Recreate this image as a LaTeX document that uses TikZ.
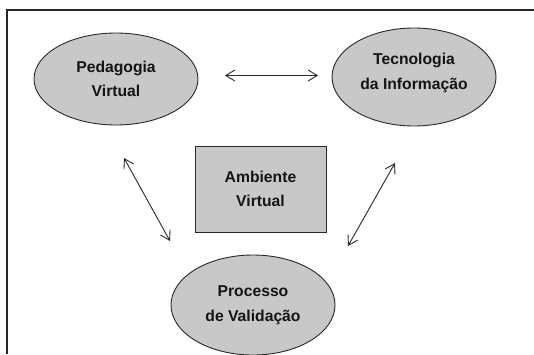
\documentclass[tikz,border=0pt]{standalone}
\usepackage{fontspec}
\setmainfont{Liberation Sans}
\usetikzlibrary{arrows.meta,shapes.geometric}
\definecolor{fillgray}{RGB}{200,200,200}
\definecolor{linegray}{RGB}{40,40,40}
\tikzset{
  bubble/.style={ellipse, draw=linegray, line width=0.9pt, fill=fillgray, inner sep=0pt},
  boxnode/.style={rectangle, draw=linegray, line width=0.9pt, fill=fillgray, inner sep=0pt},
  lbl/.style={font=\fontsize{15.7}{24.5}\selectfont\bfseries, align=center, text=black!92},
  link/.style={draw=linegray, line width=0.9pt, {Straight Barb[length=9pt,width=11pt]}-{Straight Barb[length=9pt,width=11pt]}},
  frameline/.style={draw=black!85, line width=1.3pt}
}
\begin{document}
\begin{tikzpicture}[x=1pt,y=-1pt]
\useasboundingbox (0,0) rectangle (534,354);
\fill[white] (0,0) rectangle (534,354);
\coordinate (fa) at (7,354);
\coordinate (fb) at (7,10);
\coordinate (fc) at (536,10);
\draw[frameline] (fa) -- (fb) -- (fc);
\node[bubble, minimum width=164pt, minimum height=92pt] (ped) at (116,79) {};
\node[lbl] at (ped.center) {Pedagogia\\Virtual};
\node[bubble, minimum width=164pt, minimum height=98pt] (tec) at (414,77) {};
\node[lbl] at (414,73) {Tecnologia\\da Informação};
\node[bubble, minimum width=164pt, minimum height=100pt] (pro) at (253,305) {};
\node[lbl] at (pro.center) {Processo\\de Validação};
\node[boxnode, minimum width=131pt, minimum height=86pt] (amb) at (260.5,189) {};
\node[lbl] at (amb.center) {Ambiente\\Virtual};
\coordinate (h1) at (225,75.5);
\coordinate (h2) at (318,75.5);
\coordinate (l1) at (124,158);
\coordinate (l2) at (170,241);
\coordinate (r1) at (395,163);
\coordinate (r2) at (348,246);
\draw[link] (h1) -- (h2);
\draw[link] (l1) -- (l2);
\draw[link] (r1) -- (r2);
\end{tikzpicture}
\end{document}
